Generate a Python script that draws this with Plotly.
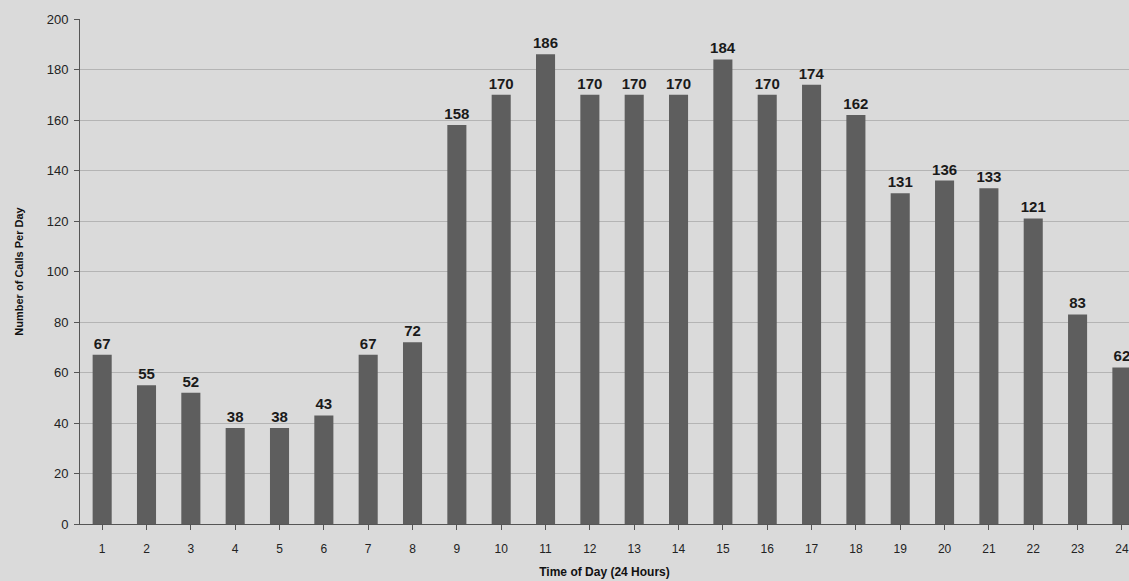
import plotly.graph_objects as go

hours = list(range(1, 25))
calls = [67, 55, 52, 38, 38, 43, 67, 72, 158, 170, 186, 170, 170, 170, 184, 170, 174, 162, 131, 136, 133, 121, 83, 62]
y_ticks = list(range(0, 201, 20))

fig = go.Figure()
fig.add_trace(go.Bar(
    x=hours, y=calls, width=0.43,
    marker=dict(color="#5e5e5e", line=dict(width=0)),
    text=[str(v) for v in calls], textposition="outside", constraintext="none",
    textfont=dict(family="Liberation Sans, Arial", size=15, color="#1a1a1a"),
    texttemplate="<b>%{text}</b>", cliponaxis=False,
))

fig.update_layout(
    width=1129, height=581,
    margin=dict(l=80, r=0, t=19, b=57),
    paper_bgcolor="#dadada", plot_bgcolor="#dadada",
    showlegend=False,
    font=dict(family="Liberation Sans, Arial", color="#222222"),
    xaxis=dict(
        range=[0.5, 24.16], tickmode="array", tickvals=hours,
        ticktext=[str(h) for h in hours],
        ticks="outside", tickson="boundaries", ticklen=5, tickcolor="#555555",
        ticklabelstandoff=9,
        showline=True, linecolor="#555555", linewidth=1,
        showgrid=False, tickfont=dict(size=12, color="#222222"),
        title=dict(text="<b>Time of Day (24 Hours)</b>", font=dict(size=12, color="#111111"), standoff=12),
    ),
    yaxis=dict(
        range=[0, 200], tickvals=y_ticks, ticks="outside", ticklen=5, tickcolor="#555555",
        ticklabelstandoff=3,
        showline=True, linecolor="#555555", linewidth=1,
        showgrid=True, gridcolor="#b4b4b4", gridwidth=1, zeroline=False,
        tickfont=dict(size=13, color="#222222"),
        title=dict(text="<b>Number of Calls Per Day</b>", font=dict(size=11, color="#111111"), standoff=20),
    ),
    bargap=0.57,
)

fig.write_html("out.html")
